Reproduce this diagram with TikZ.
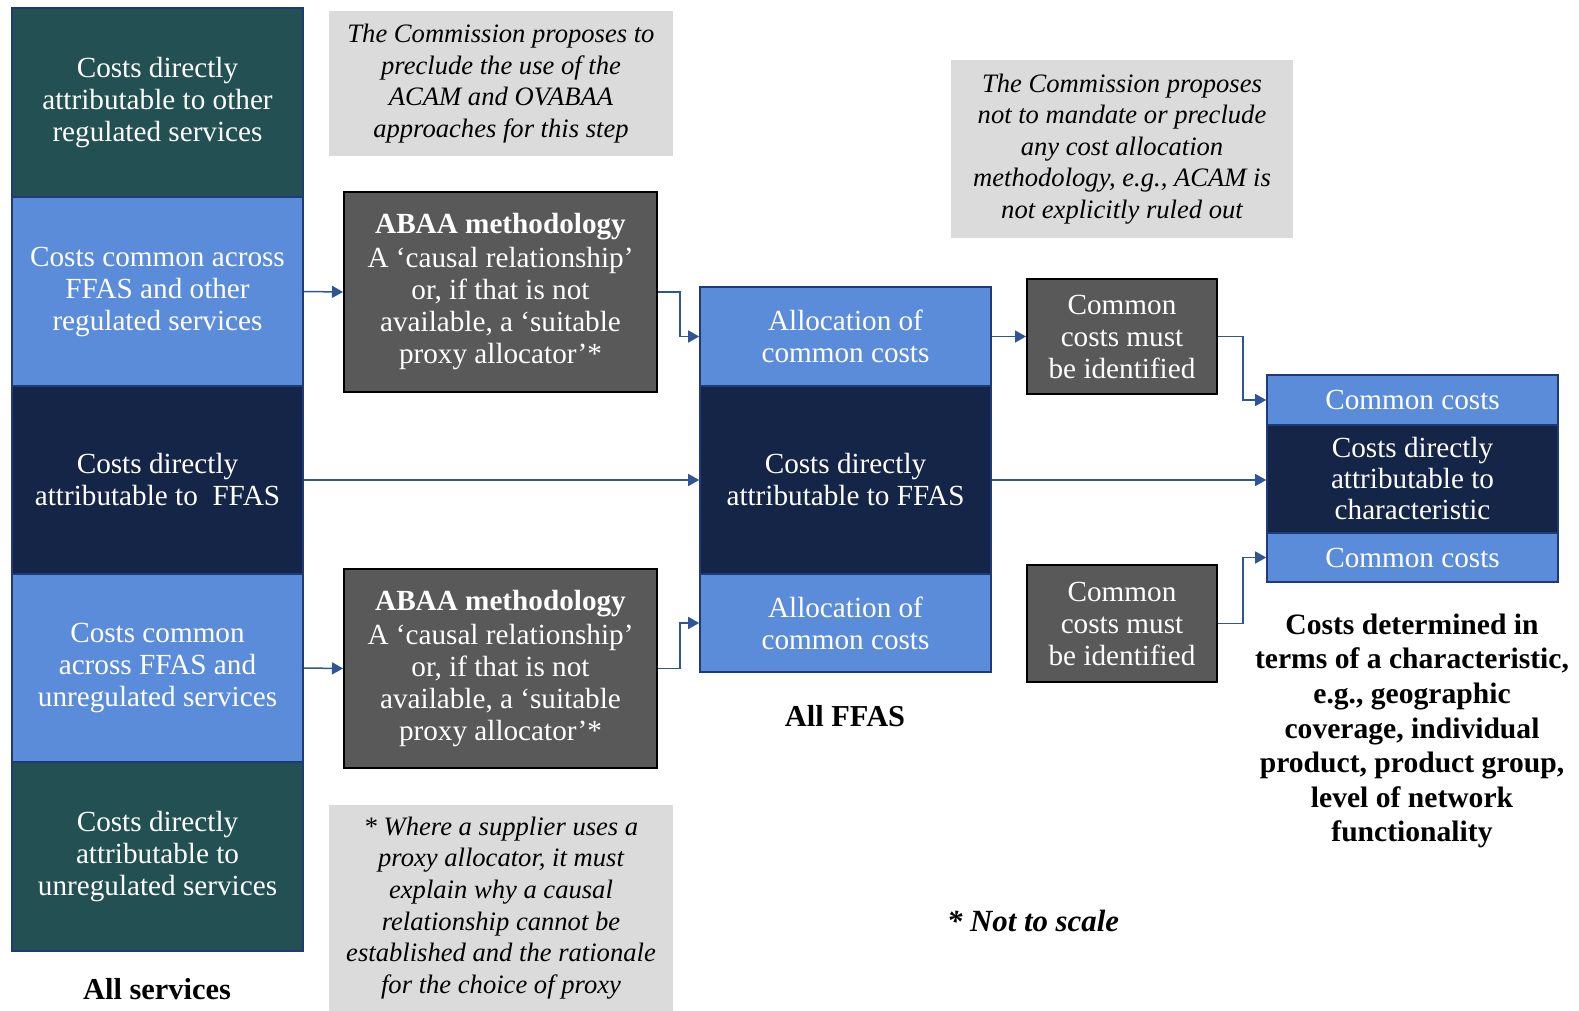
\documentclass[tikz,border=0pt]{standalone}
\usepackage{fontspec}
\setmainfont{Liberation Serif}
\usetikzlibrary{arrows.meta}
\definecolor{cTeal}{RGB}{35,80,82}
\definecolor{cLight}{RGB}{91,140,217}
\definecolor{cNavy}{RGB}{20,37,72}
\definecolor{cGray}{RGB}{89,89,89}
\definecolor{cNote}{RGB}{219,219,219}
\definecolor{cLine}{RGB}{47,85,151}
\definecolor{cBorder}{RGB}{30,58,120}
\tikzset{
  band/.style={draw=cBorder, line width=0.8pt, text=white, align=center, inner sep=0pt,
    font=\fontsize{14.6}{16}\selectfont},
  graybox/.style={draw=black, line width=1pt, fill=cGray, text=white, align=center, inner sep=0pt,
    font=\fontsize{14.6}{16}\selectfont},
  note/.style={fill=cNote, text=black, align=center, inner sep=0pt,
    font=\fontsize{13.3}{15.8}\selectfont\itshape},
  caption/.style={text=black, align=center, inner sep=0pt, font=\fontsize{15.2}{16}\selectfont\bfseries},
  flow/.style={draw=cLine, line width=0.75pt, -{Triangle[length=5.5pt,width=6pt]}}
}
\begin{document}
\begin{tikzpicture}[x=0.5pt,y=-0.5pt]
\useasboundingbox (0,0) rectangle (1579,1011);
% left column
\node[band, fill=cTeal, minimum width=145.5pt, minimum height=94.5pt] (l1) at (157.5,102.5) {Costs directly\\attributable to other\\regulated services};
\node[band, fill=cLight, minimum width=145.5pt, minimum height=94.5pt] (l2) at (157.5,291.5) {Costs common across\\FFAS and other\\regulated services};
\node[band, fill=cNavy, minimum width=145.5pt, minimum height=94pt] (l3) at (157.5,480) {Costs directly\\attributable to\ \ FFAS};
\node[band, fill=cLight, minimum width=145.5pt, minimum height=94pt] (l4) at (157.5,668) {Costs common\\across FFAS and\\unregulated services};
\node[band, fill=cTeal, minimum width=145.5pt, minimum height=94.5pt] (l5) at (157.5,856.5) {Costs directly\\attributable to\\unregulated services};
\node[caption] (allserv) at (157,989) {All services};
% notes
\node[note, minimum width=172pt, minimum height=72.5pt] (n1) at (501,83.5) {The Commission proposes to\\preclude the use of the\\ACAM and OVABAA\\approaches for this step};
\node[note, minimum width=171pt, minimum height=89pt] (n2) at (1122,149) {The Commission proposes\\not to mandate or preclude\\any cost allocation\\methodology, e.g., ACAM is\\not explicitly ruled out};
\node[note, minimum width=172pt, minimum height=103pt] (n3) at (501,908) {* Where a supplier uses a\\proxy allocator, it must\\explain why a causal\\relationship cannot be\\established and the rationale\\for the choice of proxy};
% ABAA boxes
\node[graybox, minimum width=156.5pt, minimum height=100pt] (a1) at (500.5,292) {\textbf{ABAA methodology}\\[1pt]A ‘causal relationship’\\or, if that is not\\available, a ‘suitable\\proxy allocator’*};
\node[graybox, minimum width=156.5pt, minimum height=99.5pt] (a2) at (500.5,668.5) {\textbf{ABAA methodology}\\[1pt]A ‘causal relationship’\\or, if that is not\\available, a ‘suitable\\proxy allocator’*};
% middle column
\node[band, fill=cLight, minimum width=145.5pt, minimum height=49.5pt] (m1) at (845.5,336.5) {Allocation of\\common costs};
\node[band, fill=cNavy, minimum width=145.5pt, minimum height=94pt] (m2) at (845.5,480) {Costs directly\\attributable to FFAS};
\node[band, fill=cLight, minimum width=145.5pt, minimum height=49pt] (m3) at (845.5,623) {Allocation of\\common costs};
\node[caption] (allffas) at (845,716) {All FFAS};
% common boxes
\node[graybox, minimum width=95pt, minimum height=57.5pt] (c1) at (1122,336.5) {Common\\costs must\\be identified};
\node[graybox, minimum width=95pt, minimum height=58.5pt] (c2) at (1122,623.5) {Common\\costs must\\be identified};
% right column
\node[band, fill=cLight, minimum width=145.5pt, minimum height=25pt] (r1) at (1412.5,400) {Common costs};
\node[band, fill=cNavy, minimum width=145.5pt, minimum height=54pt, font=\fontsize{14.6}{15.5}\selectfont] (r2) at (1412.5,479) {Costs directly\\attributable to\\characteristic};
\node[band, fill=cLight, minimum width=145.5pt, minimum height=24.5pt] (r3) at (1412.5,557.5) {Common costs};
\node[caption, font=\fontsize{14.8}{17.3}\selectfont\bfseries] (rtext) at (1412,731) {Costs determined in\\terms of a characteristic,\\e.g., geographic\\coverage, individual\\product, product group,\\level of network\\functionality};
\node[caption, font=\fontsize{15.4}{16}\selectfont\bfseries\itshape] (nts) at (1033,921) {* Not to scale};
% connectors
\draw[flow] (l2.east) -- (a1.west);
\draw[flow] (a1.east) -- ++(22,0) |- (m1.west);
\draw[flow] (l3.east) -- (m2.west);
\draw[flow] (l4.east) -- (a2.west);
\draw[flow] (a2.east) -- ++(22,0) |- (m3.west);
\draw[flow] (m1.east) -- (c1.west);
\draw[flow] (c1.east) -- ++(25,0) |- (r1.west);
\draw[flow] (m2.east) -- (m2.east -| r2.west);
\draw[flow] (c2.east) -- ++(25,0) |- (r3.west);
\end{tikzpicture}
\end{document}
